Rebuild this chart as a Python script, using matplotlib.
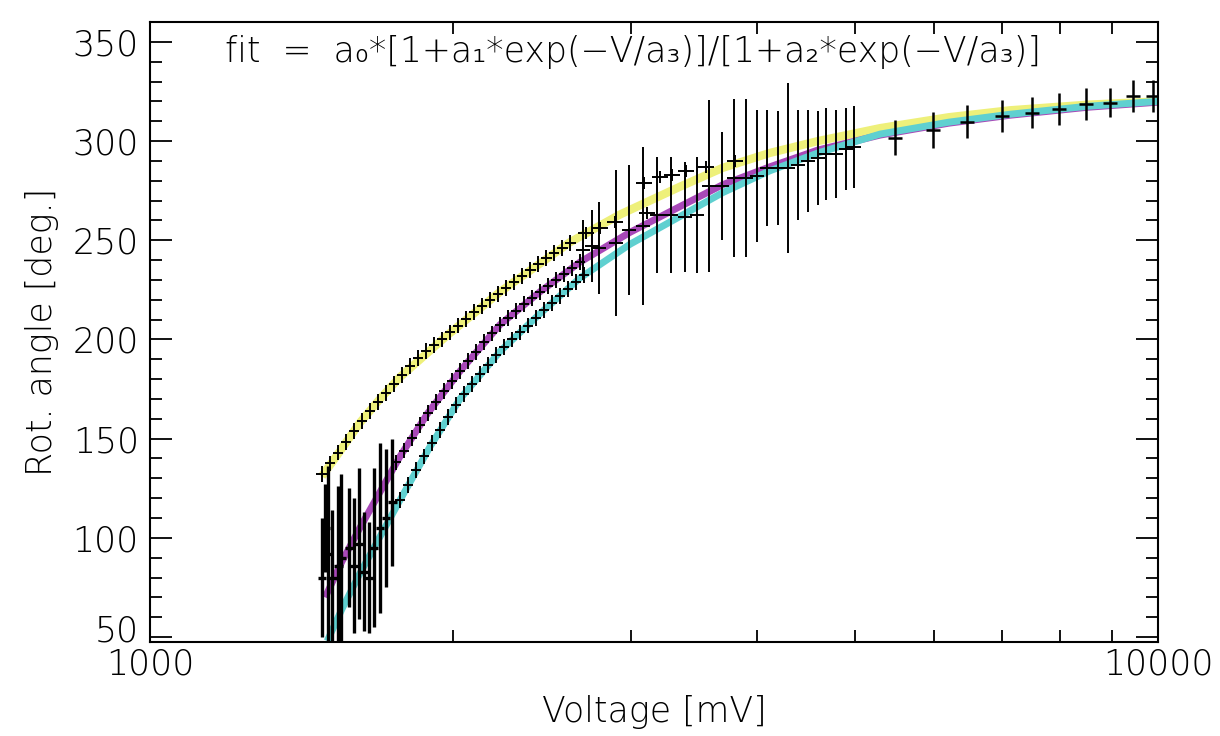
import matplotlib
matplotlib.use('Agg')
import matplotlib.pyplot as plt
import matplotlib.transforms as mtransforms
from matplotlib.ticker import FixedLocator, NullFormatter

# ---------------- data ----------------
# fit curves (voltage in mV, rotation angle in deg)
fit_v_yellow = [1481, 1540, 1615, 1691, 1770, 1971, 2225, 2610, 2927, 3356, 3700, 4120,
                4600, 5300, 6200, 7130, 8500, 10000]
fit_yellow = [131, 143, 158, 170, 181, 202, 224, 249, 263, 277, 286.5, 294,
              300, 306.5, 312, 315.5, 318.3, 320]

fit_v_magenta = [1492, 1550, 1615, 1770, 1887, 2030, 2225, 2437, 2671, 2994, 3356, 3700,
                 4120, 4600, 5300, 6200, 7130, 8500, 10000]
fit_magenta = [70, 88, 105, 141, 163, 184, 207.5, 224, 239, 254, 267, 278,
               287, 295.5, 303, 309, 313, 317, 319.6]

fit_v_cyan = [1499, 1550, 1615, 1770, 1896, 2030, 2225, 2437, 2671, 2994, 3356, 3700,
              4120, 4600, 5300, 6200, 7130, 8500, 10000]
fit_cyan = [48, 64, 82, 119, 146, 170, 194, 213, 231, 248, 262, 274,
            285, 294, 303.5, 309.5, 313.5, 317.5, 320]

# dense data set along the upper (yellow) fit
v_upper = [1480, 1508, 1536, 1564, 1593, 1623, 1653, 1683, 1714, 1746, 1778, 1811,
           1844, 1878, 1913, 1948, 1985, 2021, 2059, 2097, 2135, 2175, 2215, 2256,
           2298, 2340, 2384, 2428, 2473, 2518, 2565, 2612]
ang_upper = [132, 137.5, 143, 148.5, 154, 159, 164, 168.5, 173, 177.5, 182, 186.5,
             190.5, 194, 197, 200, 203.5, 207, 210.5, 214, 217, 220, 223, 226,
             229, 232, 235, 238, 241, 243.5, 246, 248.5]
err_upper = 4.0

# dense data set along the middle (magenta) fit
v_mid = [1754, 1786, 1819, 1853, 1887, 1922, 1957, 1993, 2030, 2067, 2105, 2144,
         2184, 2224, 2265, 2307, 2349, 2393, 2437, 2482, 2527, 2574, 2621, 2670]
ang_mid = [138, 144, 150.5, 157, 163, 168.5, 174, 179, 184, 189, 193.5, 198.5,
           203, 207.5, 211, 214.5, 218, 221, 224, 227, 230, 233, 236, 239]
err_mid = 4.0

# dense data set along the lower (cyan) fit
v_low = [1770, 1803, 1836, 1870, 1904, 1939, 1975, 2011, 2048, 2086, 2125, 2164,
         2204, 2244, 2286, 2328, 2371, 2414, 2459, 2504, 2550, 2597, 2645, 2694]
ang_low = [119, 126.5, 134, 141, 148, 154.5, 161, 167, 172.5, 177.5, 182.5, 187,
           192, 196, 200, 203.5, 207, 211, 215, 218.5, 222, 225.5, 229, 232.5]
err_low = 4.0

# low-voltage points with large errors
v_start = [1481, 1492, 1502, 1516, 1537, 1548, 1576, 1594, 1612, 1631, 1650, 1668,
           1691, 1715, 1739]
ang_start = [80, 105, 92, 80, 86, 90, 95, 86, 97, 83, 80, 95,
             105, 110, 118]
err_start = [30, 22, 44, 34, 40, 42, 30, 34, 38, 30, 28, 40,
             43, 35, 32]

# mid-voltage points with large errors
v_wide = [2689, 2745, 2789, 2900, 2987, 3084, 3184, 3288, 3394, 3488, 3585, 3693,
          3796, 3902, 4001, 4094, 4198, 4295, 4394, 4496, 4600, 4685, 4793, 4904, 4995]
ang_wide = [245.1, 247.2, 246.2, 248.7, 255.2, 257.2, 262.7, 262.7, 261.7, 262.7, 277.3, 277.3,
            281.4, 281.4, 282.4, 286.4, 286.4, 286.4, 287.9, 289.9, 291.4, 293.5, 293.5, 296.0, 297.0]
err_wide = [15.1, 18.1, 23.2, 36.8, 32.8, 39.8, 29.2, 29.2, 27.7, 29.2, 43.3, 27.2,
            39.8, 39.8, 33.3, 29.2, 28.7, 42.8, 27.7, 25.7, 23.7, 23.2, 22.2, 20.7, 20.7]

# crosses near the upper fit between 2.7 and 3.8 V
v_cross = [2707, 2796, 2893, 3112, 3091, 3206, 3295, 3402, 3561, 3805]
ang_cross = [253.6, 256, 259, 263.7, 279, 282, 283, 285, 287, 290]
err_cross = 3.0

# high-voltage points
v_high = [5483, 5980, 6465, 7003, 7499, 7975, 8482, 8960, 9445, 9886]
ang_high = [301.7, 305.5, 309.8, 312.6, 314.3, 316.1, 318.6, 319.4, 322.7, 322.7]
err_high = [8.8, 9, 8.3, 8, 7.8, 8, 8, 7.3, 8, 8]

x_ticks = [1000, 10000]
x_tick_labels = ['1000', '10000']
y_ticks = [50, 100, 150, 200, 250, 300, 350]
formula = 'fit  =  a\u2080*[1+a\u2081*exp(\u2212V/a\u2083)]/[1+a\u2082*exp(\u2212V/a\u2083)]'

# ---------------- figure ----------------
plt.rcParams['font.family'] = ['DejaVu Sans']
plt.rcParams['font.weight'] = 'light'
plt.rcParams['axes.labelweight'] = 'light'
fig = plt.figure(figsize=(12.2, 7.36), dpi=100)
ax = fig.add_axes([150 / 1220, 1 - 642 / 736, 1008 / 1220, 620 / 736])
ax.set_xscale('log')
ax.set_xlim(1000, 10000)
ax.set_ylim(47.5, 360)

ax.plot(fit_v_yellow, fit_yellow, color='#eef07a', lw=6, zorder=2,
        solid_capstyle='butt', solid_joinstyle='round')
ax.plot(fit_v_magenta, fit_magenta, color='#a848b8', lw=5.0, zorder=2.1,
        solid_capstyle='butt', solid_joinstyle='round')
ax.plot(fit_v_cyan, fit_cyan, color='#5fd0d0', lw=5.0, zorder=2.2,
        solid_capstyle='butt', solid_joinstyle='round')


def crosses(v, a, yerr, rel_x, lw=1.4):
    xerr = [x * rel_x for x in v]
    ax.errorbar(v, a, xerr=xerr, yerr=yerr, fmt='none', ecolor='black',
                elinewidth=lw, capsize=0, zorder=3)


crosses(v_upper, ang_upper, err_upper, 0.012)
crosses(v_mid, ang_mid, err_mid, 0.012)
crosses(v_low, ang_low, err_low, 0.012)
crosses(v_start, ang_start, err_start, 0.010, lw=2.4)
crosses(v_wide, ang_wide, err_wide, 0.016)
crosses(v_cross, ang_cross, err_cross, 0.018)
crosses(v_high, ang_high, err_high, 0.016, lw=1.8)

# axes styling
for s in ax.spines.values():
    s.set_linewidth(1.5)
ax.xaxis.set_major_locator(FixedLocator(x_ticks))
ax.set_xticklabels(x_tick_labels)
ax.xaxis.set_minor_locator(FixedLocator([m * 1000 for m in range(2, 10)]))
ax.xaxis.set_minor_formatter(NullFormatter())
ax.yaxis.set_major_locator(FixedLocator(y_ticks))
ax.yaxis.set_minor_locator(FixedLocator(list(range(50, 361, 10))))
ax.tick_params(which='major', direction='in', length=15.5, width=1.3,
               top=True, right=True, labelsize=25, pad=8)
ax.tick_params(which='minor', direction='in', length=8.5, width=1.3,
               top=True, right=True)
ax.tick_params(axis='x', which='major', pad=4)

# lowest y label sits a little above its tick, as in the original
first = ax.yaxis.get_major_ticks()[0]
first.label1.set_transform(first.label1.get_transform() +
                           mtransforms.ScaledTranslation(0, 9 / 100, fig.dpi_scale_trans))

ax.set_xlabel('Voltage [mV]', fontsize=25, labelpad=10)
ax.set_ylabel('Rot. angle [deg.]', fontsize=25, labelpad=10)
ax.text(225 / 1220, 1 - 52 / 736, formula, transform=fig.transFigure,
        fontsize=25, va='center', ha='left')

fig.savefig('out.png', dpi=100, facecolor='white')
